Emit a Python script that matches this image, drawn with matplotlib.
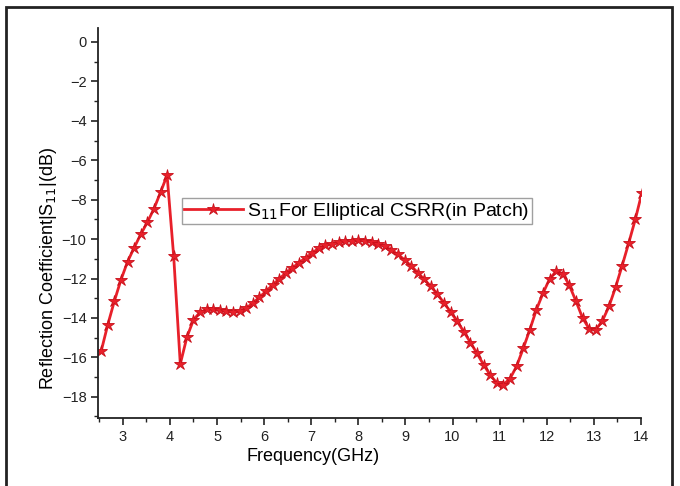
import matplotlib
matplotlib.use('Agg')
import matplotlib.pyplot as plt
from matplotlib.patches import Rectangle
from matplotlib.ticker import MultipleLocator

plt.rcParams['font.family'] = ['Liberation Sans', 'DejaVu Sans']

freq = [2.54, 2.68, 2.82, 2.96, 3.10, 3.24, 3.38, 3.52, 3.66, 3.80,
        3.94, 4.08, 4.22, 4.36, 4.50, 4.64, 4.78, 4.92, 5.06, 5.20,
        5.34, 5.48, 5.62, 5.76, 5.90, 6.04, 6.18, 6.32, 6.46, 6.60,
        6.74, 6.88, 7.02, 7.16, 7.30, 7.44, 7.58, 7.72, 7.86, 8.00,
        8.14, 8.28, 8.42, 8.56, 8.70, 8.84, 8.98, 9.12, 9.26, 9.40,
        9.54, 9.68, 9.82, 9.96, 10.10, 10.24, 10.38, 10.52, 10.66, 10.80,
        10.94, 11.08, 11.22, 11.36, 11.50, 11.64, 11.78, 11.92, 12.06, 12.20,
        12.34, 12.48, 12.62, 12.76, 12.90, 13.04, 13.18, 13.32, 13.46, 13.60,
        13.74, 13.88, 14.02]
s11 = [-15.69, -14.35, -13.15, -12.07, -11.15, -10.44, -9.76, -9.15, -8.47, -7.63,
       -6.76, -10.88, -16.34, -14.98, -14.10, -13.71, -13.57, -13.57, -13.62, -13.66,
       -13.70, -13.66, -13.50, -13.25, -12.95, -12.65, -12.33, -12.02, -11.72, -11.46,
       -11.20, -10.95, -10.72, -10.45, -10.32, -10.24, -10.17, -10.11, -10.08, -10.07,
       -10.09, -10.14, -10.23, -10.36, -10.55, -10.78, -11.05, -11.36, -11.70, -12.05,
       -12.40, -12.80, -13.25, -13.70, -14.18, -14.70, -15.25, -15.80, -16.38, -16.90,
       -17.30, -17.38, -17.08, -16.45, -15.55, -14.60, -13.58, -12.75, -12.02, -11.63,
       -11.75, -12.35, -13.15, -14.00, -14.55, -14.60, -14.15, -13.42, -12.45, -11.35,
       -10.20, -9.00, -7.65]

red = '#e8202a'

fig = plt.figure(figsize=(6.8, 4.86), dpi=100)
ax = fig.add_axes([0.1446, 0.139, 0.798, 0.803])

ax.plot(freq, s11, color=red, lw=2, marker='*', ms=9,
        markerfacecolor=red, markeredgecolor='#c8101a', markeredgewidth=0.6,
        label=r'S$_{11}$For Elliptical CSRR(in Patch)')

ax.set_xlim(2.48, 14)
ax.set_ylim(-19.1, 0.7)
ax.xaxis.set_minor_locator(MultipleLocator(0.5))
ax.yaxis.set_minor_locator(MultipleLocator(1))
ax.set_xticks(range(3, 15))
ax.set_yticks(range(-18, 1, 2))

for side in ['top', 'right']:
    ax.spines[side].set_visible(False)
for side in ['left', 'bottom']:
    ax.spines[side].set_linewidth(1.3)
    ax.spines[side].set_color('#222222')

ax.tick_params(which='major', direction='out', length=5, width=1.2,
               labelsize=10.5, colors='#222222')
ax.tick_params(which='minor', direction='out', length=3, width=1.0,
               colors='#222222')

ax.set_xlabel('Frequency(GHz)', fontsize=13)
ax.xaxis.set_label_coords(0.396, -0.075)
ax.set_ylabel(r'Reflection Coefficient|S$_{11}$|(dB)', fontsize=13)
ax.yaxis.set_label_coords(-0.072, 0.385)

leg = ax.legend(loc='upper left', bbox_to_anchor=(0.154, 0.564), fontsize=14,
                frameon=True, fancybox=False, handlelength=3.0,
                handletextpad=0.25, borderpad=0.12, borderaxespad=0)
leg.get_frame().set_edgecolor('#888888')
leg.get_frame().set_linewidth(1.0)

# outer border around the figure
fig.patches.append(Rectangle((6 / 680, -0.02), 666 / 680, 1.02 - 7 / 486,
                             transform=fig.transFigure, fill=False,
                             edgecolor='#222222', linewidth=2))

fig.savefig('out.png', dpi=100)
plt.close(fig)
